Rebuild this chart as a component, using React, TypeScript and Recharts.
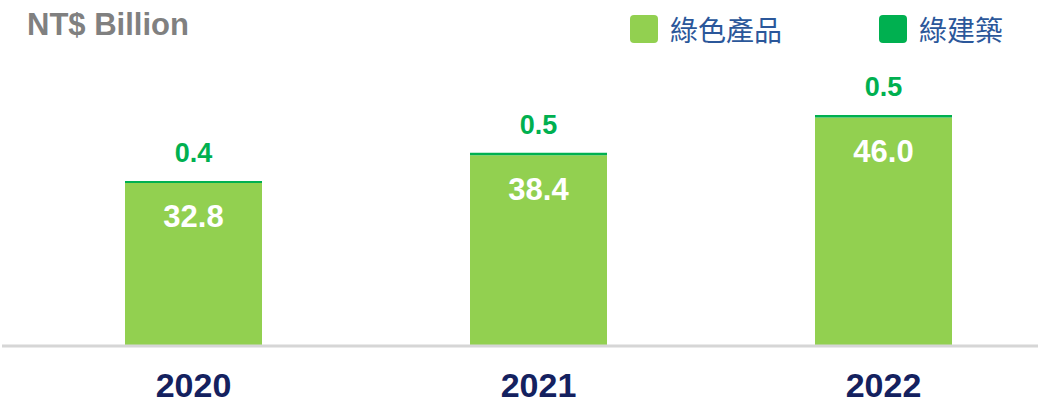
import React from "react";
import { BarChart, Bar, XAxis, YAxis, LabelList } from "recharts";

const years = ["2020", "2021", "2022"];
const greenProducts = [32.8, 38.4, 46.0];
const greenBuildings = [0.4, 0.5, 0.5];

const LIGHT = "#92d050";
const DARK = "#00b050";
const NAVY = "#14215f";
const FONT = '"Liberation Sans", Arial, sans-serif';
const CJK = '"Noto Sans CJK TC", "Noto Sans", sans-serif';

const data = years.map((year, i) => ({
  year,
  product: greenProducts[i],
  building: greenBuildings[i],
}));

const legendItems = [
  { name: "綠色產品", color: LIGHT, left: 630 },
  { name: "綠建築", color: DARK, left: 879 },
];

function InsideLabel(props: any) {
  const { x, y, width, value } = props;
  return (
    <text x={x + width / 2} y={y + 34} textAnchor="middle" dominantBaseline="central"
      fill="#ffffff" fontFamily={FONT} fontWeight="bold" fontSize={31}>
      {Number(value).toFixed(1)}
    </text>
  );
}

function TopLabel(props: any) {
  const { x, y, width, value } = props;
  return (
    <text x={x + width / 2} y={y - 19} textAnchor="middle"
      fill={DARK} fontFamily={FONT} fontWeight="bold" fontSize={27}>
      {Number(value).toFixed(1)}
    </text>
  );
}

function YearTick(props: any) {
  const { x, y, payload } = props;
  return (
    <text x={x} y={y + 43} textAnchor="middle" fill={NAVY}
      fontFamily={FONT} fontWeight="bold" fontSize={34}>
      {payload.value}
    </text>
  );
}

export default function App() {
  return (
    <div style={{ position: "absolute", left: 0, top: 0, width: 1038, height: 403, overflow: "hidden", background: "#fff" }}>
      <div style={{ position: "absolute", left: 27, top: 7, fontFamily: FONT, fontWeight: "bold", fontSize: 31, color: "#808080" }}>
        NT$ Billion
      </div>
      {legendItems.map((it) => (
        <div key={it.name} style={{ position: "absolute", left: it.left, top: 15, display: "flex", alignItems: "center" }}>
          <div style={{ width: 28, height: 28, background: it.color, borderRadius: 4 }} />
          <span style={{ marginLeft: 12, fontFamily: CJK, fontSize: 28, color: "#2b579a", lineHeight: "28px" }}>
            {it.name}
          </span>
        </div>
      ))}
      <BarChart width={1056} height={403} data={data} margin={{ top: 97.5, right: 0, left: 2, bottom: 0 }}>
        <XAxis dataKey="year" height={57} padding={{ left: 19, right: 0 }} tickLine={false}
          axisLine={{ stroke: "#d6d6d6", strokeWidth: 3 }} tick={<YearTick />} interval={0} />
        <YAxis hide domain={[0, 50]} />
        <Bar dataKey="product" stackId="a" fill={LIGHT} barSize={137} isAnimationActive={false}>
          <LabelList dataKey="product" content={<InsideLabel />} />
        </Bar>
        <Bar dataKey="building" stackId="a" fill={DARK} barSize={137} isAnimationActive={false}>
          <LabelList dataKey="building" content={<TopLabel />} />
        </Bar>
      </BarChart>
    </div>
  );
}
